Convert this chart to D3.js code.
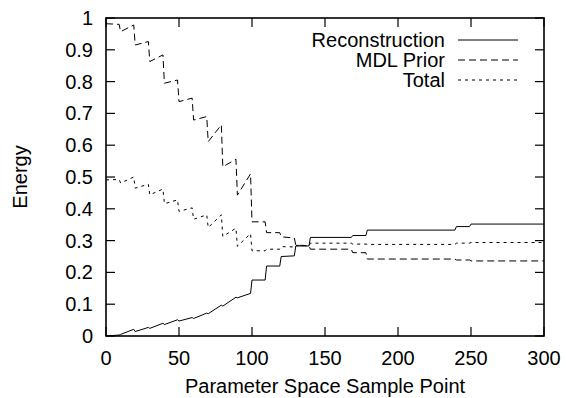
<!DOCTYPE html>
<html><head><meta charset="utf-8">
<script src="https://cdn.jsdelivr.net/npm/d3@7"></script>
<style>
html,body{margin:0;padding:0;background:#fff;}
svg{display:block;}
text{font-family:"Liberation Sans",Arial,Helvetica,sans-serif;fill:#000;}
</style></head>
<body>
<script>
// ---- data ----
const samplePoints = [0,9,10,19,20,29,30,39,40,49,50,59,60,69,70,79,80,89,90,99,100,109,110,119,120,129,130,139,140,168,169,178,179,239,240,249,250,300];
const reconstruction = [0.000,0.003,0.005,0.021,0.014,0.027,0.024,0.040,0.036,0.051,0.047,0.058,0.055,0.072,0.070,0.097,0.094,0.122,0.120,0.134,0.176,0.176,0.220,0.220,0.250,0.252,0.283,0.283,0.310,0.310,0.316,0.316,0.333,0.333,0.344,0.344,0.352,0.352];
const mdlPrior = [0.982,0.980,0.957,0.978,0.915,0.926,0.863,0.884,0.795,0.805,0.737,0.748,0.679,0.690,0.611,0.664,0.532,0.556,0.443,0.510,0.359,0.359,0.325,0.325,0.312,0.308,0.286,0.284,0.273,0.273,0.262,0.262,0.242,0.242,0.239,0.239,0.236,0.236];
const total = [0.491,0.492,0.481,0.500,0.465,0.477,0.444,0.462,0.416,0.428,0.392,0.403,0.367,0.381,0.341,0.381,0.313,0.339,0.282,0.322,0.268,0.268,0.273,0.273,0.281,0.280,0.285,0.284,0.292,0.292,0.289,0.289,0.288,0.288,0.292,0.292,0.294,0.294];
const seriesNames = ["Reconstruction","MDL Prior","Total"];
const xTicks = [0,50,100,150,200,250,300];
const yTicks = [0,0.1,0.2,0.3,0.4,0.5,0.6,0.7,0.8,0.9,1];
const xTitle = "Parameter Space Sample Point";
const yTitle = "Energy";

// ---- layout ----
const W = 566, H = 398;
const L = 106, R = 544, T = 18, B = 336;
const FS = 20;
const svg = d3.select("body").append("svg").attr("width", W).attr("height", H);
const x = d3.scaleLinear().domain([0,300]).range([L,R]);
const y = d3.scaleLinear().domain([0,1]).range([B,T]);
const tickLen = 9;

// ticks (inward, mirrored)
const g = svg.append("g").attr("stroke","#000").attr("stroke-width",1.2);
xTicks.forEach(v=>{
  g.append("line").attr("x1",x(v)).attr("x2",x(v)).attr("y1",B).attr("y2",B-tickLen);
  g.append("line").attr("x1",x(v)).attr("x2",x(v)).attr("y1",T).attr("y2",T+tickLen);
});
yTicks.forEach(v=>{
  g.append("line").attr("x1",L).attr("x2",L+tickLen).attr("y1",y(v)).attr("y2",y(v));
  g.append("line").attr("x1",R).attr("x2",R-tickLen).attr("y1",y(v)).attr("y2",y(v));
});

// tick labels
svg.append("g").selectAll("text").data(xTicks).join("text")
  .attr("x",d=>x(d)).attr("y",365).attr("text-anchor","middle")
  .attr("font-size",FS).text(d=>d3.format("")(d));
svg.append("g").selectAll("text").data(yTicks).join("text")
  .attr("x",93).attr("y",d=>y(d)+7).attr("text-anchor","end")
  .attr("font-size",FS).text(d=>d3.format("")(d));

// titles
svg.append("text").attr("x",(L+R)/2).attr("y",393).attr("text-anchor","middle").attr("font-size",FS).text(xTitle);
svg.append("text").attr("transform",`translate(27,${(T+B)/2}) rotate(-90)`).attr("text-anchor","middle").attr("font-size",FS).text(yTitle);

// curves
svg.append("clipPath").attr("id","clip").append("rect").attr("x",L).attr("y",T).attr("width",R-L).attr("height",B-T);
const styles = [null,"7,4","3,4"];
const data = [reconstruction, mdlPrior, total];
const line = d3.line().x(d=>x(d[0])).y(d=>y(d[1]));
data.forEach((vals,i)=>{
  svg.append("path").attr("clip-path","url(#clip)")
    .datum(samplePoints.map((p,j)=>[p,vals[j]]))
    .attr("fill","none").attr("stroke","#000").attr("stroke-width",1)
    .attr("stroke-dasharray",styles[i]).attr("d",line);
});

// legend
const legY = [40,60,80];
seriesNames.forEach((n,i)=>{
  svg.append("text").attr("x",445).attr("y",legY[i]+7).attr("text-anchor","end").attr("font-size",FS).text(n);
  svg.append("line").attr("x1",458).attr("x2",518).attr("y1",legY[i]).attr("y2",legY[i])
    .attr("stroke","#000").attr("stroke-width",1).attr("stroke-dasharray",styles[i]);
});

// frame
svg.append("rect").attr("x",L).attr("y",T).attr("width",R-L).attr("height",B-T)
  .attr("fill","none").attr("stroke","#000").attr("stroke-width",1.6);
</script>
</body></html>
